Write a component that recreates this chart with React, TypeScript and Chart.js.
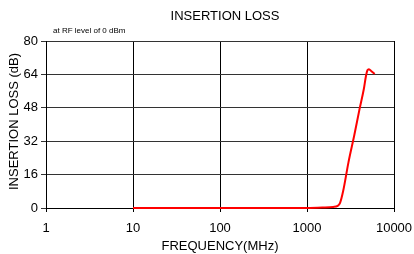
import React, { useEffect, useRef } from "react";
import { Chart, registerables } from "chart.js";

Chart.register(...registerables);

const FREQ = [10, 100, 1000, 1500, 2000, 2250, 2400, 2600, 3000, 3500, 4000, 4500, 4750, 4950, 5150, 5500, 6000];
const LOSS = [0, 0, 0, 0.2, 0.5, 1, 2.5, 8, 22, 35, 47, 57, 63, 66, 66.5, 65.5, 64.2];
const X_TICKS = [1, 10, 100, 1000, 10000];
const Y_TICKS = [0, 16, 32, 48, 64, 80];

const TITLE = "INSERTION LOSS";
const SUBTITLE = "at RF level of 0 dBm";
const X_TITLE = "FREQUENCY(MHz)";
const Y_TITLE = "INSERTION LOSS (dB)";

const FONT = "'Liberation Sans', Arial, sans-serif";

export default function App() {
  const ref = useRef<HTMLCanvasElement | null>(null);

  useEffect(() => {
    if (!ref.current) return;
    const textPlugin = {
      id: "texts",
      afterDraw(chart: any) {
        const ctx = chart.ctx;
        const a = chart.chartArea;
        ctx.save();
        ctx.fillStyle = "#000";
        ctx.textBaseline = "middle";
        ctx.textAlign = "center";
        ctx.font = `13px ${FONT}`;
        ctx.fillText(TITLE, 225, 16);
        ctx.fillText(X_TITLE, 220, 246);
        ctx.save();
        ctx.translate(14, (a.top + a.bottom) / 2 - 3);
        ctx.rotate(-Math.PI / 2);
        ctx.fillText(Y_TITLE, 0, 0);
        ctx.restore();
        ctx.textAlign = "left";
        ctx.font = `8px ${FONT}`;
        ctx.fillText(SUBTITLE, a.left + 7, 31);
        ctx.restore();
      },
    };

    const chart = new Chart(ref.current, {
      type: "line",
      data: {
        datasets: [
          {
            data: FREQ.map((f, i) => ({ x: f, y: LOSS[i] })),
            borderColor: "#ff0000",
            borderWidth: 2,
            pointRadius: 0,
            cubicInterpolationMode: "monotone",
            fill: false,
            clip: 4,
          },
        ],
      },
      options: {
        responsive: false,
        animation: false,
        layout: { padding: { top: 41, right: 20, left: 0, bottom: 0 } },
        plugins: { legend: { display: false }, title: { display: false }, tooltip: { enabled: false } },
        scales: {
          x: {
            type: "logarithmic",
            min: 1,
            max: 10000,
            afterBuildTicks: (s: any) => {
              s.ticks = X_TICKS.map((v) => ({ value: v }));
            },
            afterFit: (s: any) => {
              s.height = 46;
              s.paddingLeft = 0;
              s.paddingRight = 0;
            },
            ticks: {
              autoSkip: false,
              maxRotation: 0,
              color: "#000",
              font: { family: FONT, size: 13 },
              padding: 9,
              callback: (v: any) => String(v),
            },
            grid: { color: "#000", lineWidth: 1, tickLength: 4, drawTicks: true },
            border: { color: "#000", width: 1 },
          },
          y: {
            min: 0,
            max: 80,
            afterBuildTicks: (s: any) => {
              s.ticks = Y_TICKS.map((v) => ({ value: v }));
            },
            afterFit: (s: any) => {
              s.width = 46;
              s.paddingTop = 0;
              s.paddingBottom = 0;
            },
            ticks: {
              color: "#000",
              font: { family: FONT, size: 13 },
              padding: 3,
            },
            grid: { color: "#333", lineWidth: 1, tickLength: 5, drawTicks: true },
            border: { color: "#000", width: 1 },
          },
        },
      },
      plugins: [textPlugin],
    } as any);
    return () => chart.destroy();
  }, []);

  return (
    <div style={{ position: "absolute", left: 0, top: 0, width: 414, height: 254, background: "#fff" }}>
      <canvas ref={ref} width={414} height={254} style={{ display: "block" }} />
    </div>
  );
}
